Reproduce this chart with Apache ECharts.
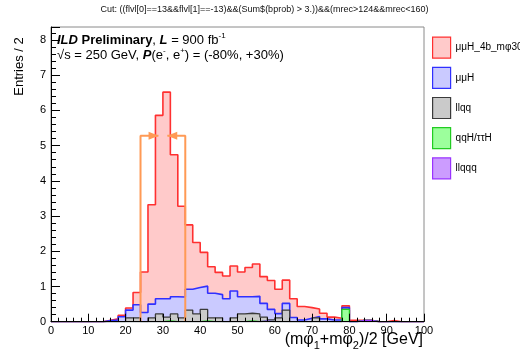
<!DOCTYPE html>
<html><head><meta charset="utf-8">
<script src="https://cdn.jsdelivr.net/npm/echarts@6/dist/echarts.min.js"></script>
<style>html,body{margin:0;padding:0;background:#fff}#c{width:520px;height:358px}</style>
</head><body><div id="c"></div>
<script>
// ---- data (2 GeV bins, left edges) ----
const binLeftEdges = [0,2,4,6,8,10,12,14,16,18,20,22,24,26,28,30,32,34,36,38,40,42,44,46,48,50,52,54,56,58,60,62,64,66,68,70,72,74,76,78,80,82,84,86,88,90,92,94,96,98];
const histUpperEdge = 100;
// per-process entries (not stacked)
const signal = [0,0,0,0,0,0,0,0.01,0.03,0.04,0.06,0.35,1.15,2.82,5.21,5.87,4.03,2.58,1.83,1.28,0.96,0.75,0.63,0.65,0.71,0.70,0.83,0.92,0.76,0.82,0.69,0.66,0.53,0.38,0.30,0.21,0.16,0.08,0.05,0.05,0.04,0.005,0.005,0,0,0.03,0,0,0,0];
const mumuH = [0,0,0,0,0,0,0,0.03,0.05,0.14,0.22,0.37,0.26,0.39,0.43,0.52,0.49,0.59,0.59,0.75,0.66,0.70,0.66,0.65,0.76,0.49,0.47,0.50,0.39,0.30,0.12,0.19,0.12,0.05,0.10,0.04,0.08,0.05,0.05,0.05,0,0,0,0,0,0,0,0,0,0];
const llqq = [0,0,0,0,0,0,0,0,0,0,0.11,0.11,0,0.11,0.22,0.11,0.22,0.11,0.33,0.22,0.33,0.11,0.11,0,0.11,0.22,0.22,0.22,0.11,0.05,0.11,0.33,0,0,0,0.11,0,0,0,0,0,0,0,0,0,0,0,0,0,0];
const qqH = [0,0,0,0,0,0,0,0,0,0,0,0,0,0,0,0.02,0,0,0,0,0.02,0,0,0,0,0,0.02,0,0,0,0,0,0,0,0,0,0,0,0,0.35,0,0,0,0,0,0,0,0,0,0];
const llqqq = [0,0,0,0,0,0,0,0,0,0,0,0,0,0,0,0,0,0,0,0,0,0,0,0,0,0,0,0,0.02,0,0,0,0,0,0,0,0,0,0,0,0,0.035,0.035,0,0,0,0,0,0,0];
const seriesNames = ['μμH_4b_mφ30', 'μμH', 'llqq', 'qqH/ττH', 'llqqq'];
// cut window with inward arrows
const cutWindow = [24, 36];
const cutHeight = 5.28;
const arrowTips = [28.8, 31.2];
const arrowCenters = [27.5, 32.5];
// axes
const xTicks = [0, 100, 10];
const yRange = [0, 8.37];

// ---- styles ----
const FONT = '"Liberation Sans", Arial, Helvetica, sans-serif';
const fills = ['#ffcaca', '#cacaff', '#cacaca', '#9cff9c', '#cc9cff'];
const lines = ['#ff3030', '#3030ff', '#3a3a3a', '#22cc22', '#9933ff'];
const cutColor = '#ff9a55';

// build stacks: bottom llqqq, qqH, llqq, mumuH, signal (top)
const stackOrder = [llqqq, qqH, llqq, mumuH, signal];
const cum = [];
let run = binLeftEdges.map(() => 0);
stackOrder.forEach(arr => { run = run.map((v, i) => v + arr[i]); cum.push(run.slice()); });
const drawCum = [cum[4], cum[3], cum[2], cum[1], cum[0]];

function stepData(vals) {
  const d = binLeftEdges.map((x, i) => [x, vals[i]]);
  d.push([histUpperEdge, 0]);
  return d;
}

const series = drawCum.map((vals, k) => ({
  name: seriesNames[k],
  type: 'line',
  step: 'end',
  data: stepData(vals),
  symbol: 'none',
  lineStyle: { color: lines[k], width: k < 2 ? 1.6 : 1.3 },
  itemStyle: { color: fills[k] },
  areaStyle: { color: fills[k], opacity: 1 },
  z: 2 + k * 0.1,
  silent: true
}));

series.push({
  name: 'cutLow', type: 'line', symbol: 'none', silent: true, z: 4,
  data: [[cutWindow[0], 0], [cutWindow[0], cutHeight], [arrowTips[0], cutHeight]],
  lineStyle: { color: cutColor, width: 2 },
  markPoint: { silent: true, symbol: 'triangle', symbolSize: [8, 10], symbolRotate: -90,
    itemStyle: { color: cutColor }, label: { show: false },
    data: [{ coord: [arrowCenters[0], cutHeight] }] }
});
series.push({
  name: 'cutHigh', type: 'line', symbol: 'none', silent: true, z: 4,
  data: [[cutWindow[1], 0], [cutWindow[1], cutHeight], [arrowTips[1], cutHeight]],
  lineStyle: { color: cutColor, width: 2 },
  markPoint: { silent: true, symbol: 'triangle', symbolSize: [8, 10], symbolRotate: 90,
    itemStyle: { color: cutColor }, label: { show: false },
    data: [{ coord: [arrowCenters[1], cutHeight] }] }
});

const chart = echarts.init(document.getElementById('c'), null, { renderer: 'canvas' });
chart.setOption({
  animation: false,
  backgroundColor: '#fff',
  grid: { left: 51, top: 27, width: 373, height: 294.7, show: true, borderColor: '#8a8a8a', borderWidth: 1, backgroundColor: 'transparent' },
  xAxis: {
    type: 'value', min: xTicks[0], max: xTicks[1], interval: xTicks[2], z: 5,
    axisLine: { show: true, onZero: false, lineStyle: { color: '#000', width: 1 } },
    axisTick: { show: true, inside: true, length: 8, lineStyle: { color: '#000' } },
    minorTick: { show: true, splitNumber: 5, length: 4, lineStyle: { color: '#000' } },
    splitLine: { show: false },
    axisLabel: { fontSize: 11, color: '#000', margin: 4, fontFamily: FONT, showMaxLabel: true }
  },
  yAxis: [{
    type: 'value', min: yRange[0], max: yRange[1], interval: 1, z: 5,
    axisLine: { show: true, onZero: false, lineStyle: { color: '#000', width: 1 } },
    axisTick: { show: true, inside: true, length: 9, lineStyle: { color: '#000' } },
    splitLine: { show: false },
    axisLabel: { fontSize: 11, color: '#000', margin: 5, fontFamily: FONT,
      formatter: v => (Math.abs(v - Math.round(v)) < 1e-6 ? String(Math.round(v)) : '') }
  }, {
    type: 'value', min: yRange[0], max: yRange[1], interval: 0.2, position: 'left', z: 5,
    axisLine: { show: false },
    axisTick: { show: true, inside: true, length: 5, lineStyle: { color: '#000' } },
    splitLine: { show: false },
    axisLabel: { show: false }
  }],
  legend: {
    orient: 'vertical', left: 432, top: 36.5, padding: 0, itemWidth: 18, itemHeight: 21, itemGap: 8,
    selectedMode: false,
    textStyle: { fontFamily: FONT, fontSize: 10, color: '#000' },
    data: seriesNames.map((n, i) => ({ name: n, icon: 'rect', itemStyle: { color: fills[i], borderColor: lines[i], borderWidth: 1.2 } }))
  },
  series: series,
  graphic: [
    { type: 'text', x: 264.5, y: 10, silent: true,
      style: { text: 'Cut: ((flvl[0]==13&&flvl[1]==-13)&&(Sum$(bprob) > 3.))&&(mrec>124&&mrec<160)',
        fill: '#111', fontSize: 9, fontFamily: FONT, align: 'center', verticalAlign: 'middle' } },
    { type: 'text', x: 19, y: 66.5, rotation: Math.PI / 2, silent: true,
      style: { text: 'Entries / 2', fill: '#000', fontSize: 13, fontFamily: FONT, align: 'center', verticalAlign: 'middle' } },
    { type: 'text', x: 57, y: 40.5, silent: true,
      style: { text: '{bi|ILD}{b| Preliminary}{n|, }{bi|L}{n| = 900 fb}{sup|-1}',
        align: 'left', verticalAlign: 'middle', fill: '#000',
        rich: {
          bi: { fontFamily: FONT, fontSize: 13, fontWeight: 'bold', fontStyle: 'italic', lineHeight: 17, fill: '#000' },
          b: { fontFamily: FONT, fontSize: 13, fontWeight: 'bold', lineHeight: 17, fill: '#000' },
          n: { fontFamily: FONT, fontSize: 13, lineHeight: 17, fill: '#000' },
          sup: { fontFamily: FONT, fontSize: 8, lineHeight: 8, verticalAlign: 'top', fill: '#000' }
        } } },
    { type: 'text', x: 57, y: 55.5, silent: true,
      style: { text: '{n|√s = 250 GeV, }{bi|P}{n|(e}{sup|-}{n|, e}{sup|+}{n|) = (-80%, +30%)}',
        align: 'left', verticalAlign: 'middle', fill: '#000',
        rich: {
          bi: { fontFamily: FONT, fontSize: 13, fontWeight: 'bold', fontStyle: 'italic', lineHeight: 17, fill: '#000' },
          n: { fontFamily: FONT, fontSize: 13, lineHeight: 17, fill: '#000' },
          sup: { fontFamily: FONT, fontSize: 8, lineHeight: 8, verticalAlign: 'top', fill: '#000' }
        } } },
    { type: 'text', x: 423, y: 340, silent: true,
      style: { text: '{n|(mφ}{s|1}{n|+mφ}{s|2}{n|)/2 [GeV]}',
        align: 'right', verticalAlign: 'middle', fill: '#000',
        rich: {
          n: { fontFamily: FONT, fontSize: 16, lineHeight: 22, fill: '#000' },
          s: { fontFamily: FONT, fontSize: 11, lineHeight: 11, verticalAlign: 'bottom', fill: '#000' }
        } } }
  ]
});
</script>
</body></html>
